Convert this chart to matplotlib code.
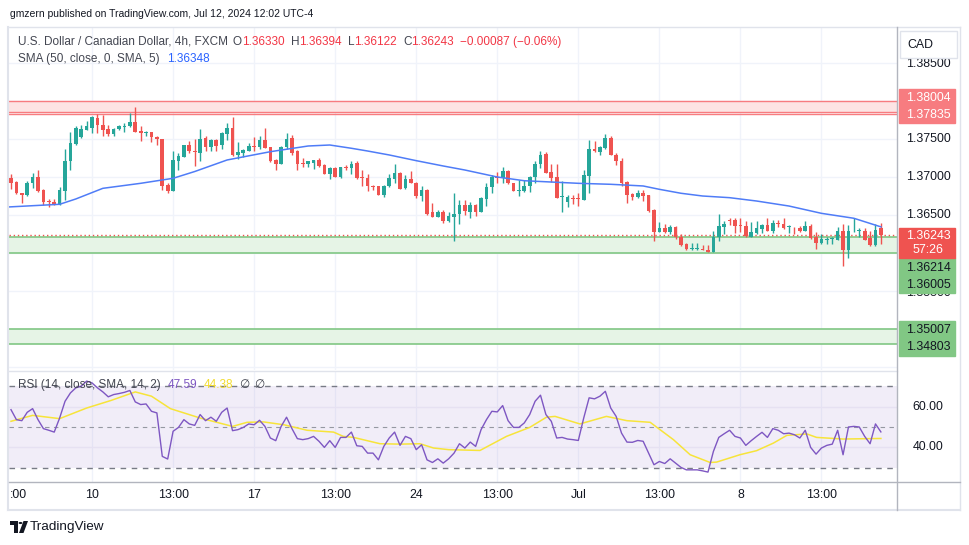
import matplotlib
matplotlib.use("Agg")
import matplotlib.pyplot as plt
from matplotlib.patches import Rectangle, Polygon, Circle
import numpy as np

plt.rcParams['font.family'] = ['Liberation Sans', 'DejaVu Sans']

# ---------------- data ----------------
open_ = [1.3699,1.3694,1.3679,1.3677,1.3692,1.3700,1.3683,1.3669,1.3667,1.3664,
         1.3682,1.3721,1.3744,1.3753,1.3762,1.3765,1.3778,1.3769,1.3764,1.3757,
         1.3763,1.3766,1.3767,1.3773,1.3761,1.3758,1.3760,1.3753,1.3750,1.3690,
         1.3682,1.3722,1.3727,1.3743,1.3735,1.3732,1.3752,1.3740,1.3749,1.3742,
         1.3757,1.3765,1.3729,1.3732,1.3735,1.3741,1.3740,1.3749,1.3740,1.3723,
         1.3718,1.3740,1.3752,1.3734,1.3719,1.3717,1.3719,1.3723,1.3716,1.3705,
         1.3712,1.3700,1.3713,1.3712,1.3719,1.3701,1.3699,1.3688,1.3688,1.3677,
         1.3688,1.3698,1.3706,1.3686,1.3698,1.3693,1.3675,1.3683,1.3654,1.3648,
         1.3655,1.3643,1.3648,1.3652,1.3663,1.3655,1.3663,1.3655,1.3671,1.3687,
         1.3700,1.3699,1.3708,1.3692,1.3682,1.3682,1.3688,1.3700,1.3718,1.3731,
         1.3707,1.3700,1.3674,1.3668,1.3673,1.3673,1.3670,1.3702,1.3737,1.3733,
         1.3739,1.3752,1.3730,1.3721,1.3694,1.3678,1.3674,1.3679,1.3677,1.3657,
         1.3628,1.3633,1.3628,1.3635,1.3622,1.3612,1.3606,1.3606,1.3606,1.3605,
         1.3602,1.3621,1.3635,1.3644,1.3644,1.3637,1.3636,1.3622,1.3627,1.3632,
         1.3637,1.3630,1.3640,1.3638,1.3635,1.3635,1.3633,1.3630,1.3636,1.3622,
         1.3613,1.3618,1.3619,1.3617,1.3629,1.3604,1.3629,1.3630,1.3630,1.3620,
         1.3611,1.36330]
high = [1.3704,1.3695,1.3680,1.3695,1.3706,1.3710,1.3685,1.3671,1.3671,1.3687,
        1.3737,1.3759,1.3768,1.3769,1.3774,1.3781,1.3783,1.3782,1.3769,1.3765,
        1.3769,1.3771,1.3784,1.3793,1.3767,1.3761,1.3760,1.3755,1.3751,1.3692,
        1.3734,1.3732,1.3743,1.3748,1.3751,1.3764,1.3754,1.3750,1.3750,1.3759,
        1.3771,1.3780,1.3746,1.3737,1.3745,1.3753,1.3754,1.3765,1.3740,1.3724,
        1.3741,1.3758,1.3756,1.3736,1.3726,1.3722,1.3723,1.3725,1.3718,1.3714,
        1.3714,1.3714,1.3716,1.3721,1.3721,1.3709,1.3705,1.3690,1.3689,1.3690,
        1.3704,1.3717,1.3707,1.3703,1.3708,1.3694,1.3688,1.3684,1.3666,1.3657,
        1.3657,1.3655,1.3680,1.3670,1.3670,1.3668,1.3665,1.3674,1.3692,1.3703,
        1.3707,1.3713,1.3710,1.3693,1.3696,1.3696,1.3702,1.3721,1.3734,1.3733,
        1.3718,1.3718,1.3695,1.3677,1.3677,1.3680,1.3709,1.3749,1.3748,1.3741,
        1.3757,1.3754,1.3732,1.3726,1.3695,1.3679,1.3683,1.3683,1.3677,1.3658,
        1.3641,1.3639,1.3637,1.3636,1.3626,1.3614,1.3613,1.3614,1.3611,1.3611,
        1.3630,1.3652,1.3643,1.3646,1.3647,1.3646,1.3642,1.3641,1.3642,1.3639,
        1.3647,1.3644,1.3644,1.3647,1.3637,1.3635,1.3636,1.3642,1.3638,1.3628,
        1.3625,1.3622,1.3622,1.3635,1.3638,1.3637,1.3646,1.3633,1.3633,1.3629,
        1.3638,1.36394]
low = [1.3685,1.3678,1.3666,1.3675,1.3686,1.3681,1.3663,1.3661,1.3663,1.3664,
       1.3670,1.3709,1.3743,1.3752,1.3762,1.3758,1.3758,1.3755,1.3755,1.3754,
       1.3762,1.3759,1.3766,1.3759,1.3748,1.3755,1.3747,1.3743,1.3683,1.3680,
       1.3682,1.3710,1.3727,1.3732,1.3715,1.3722,1.3735,1.3735,1.3735,1.3737,
       1.3749,1.3728,1.3724,1.3727,1.3735,1.3735,1.3737,1.3739,1.3720,1.3710,
       1.3718,1.3737,1.3729,1.3709,1.3714,1.3713,1.3711,1.3714,1.3704,1.3698,
       1.3700,1.3699,1.3709,1.3704,1.3698,1.3688,1.3682,1.3683,1.3677,1.3674,
       1.3687,1.3692,1.3684,1.3685,1.3692,1.3673,1.3669,1.3650,1.3648,1.3648,
       1.3640,1.3641,1.3616,1.3638,1.3650,1.3647,1.3649,1.3654,1.3662,1.3680,
       1.3692,1.3693,1.3691,1.3682,1.3676,1.3681,1.3681,1.3693,1.3712,1.3706,
       1.3694,1.3673,1.3655,1.3661,1.3665,1.3662,1.3670,1.3680,1.3733,1.3730,
       1.3737,1.3729,1.3716,1.3688,1.3666,1.3670,1.3673,1.3669,1.3655,1.3616,
       1.3628,1.3627,1.3625,1.3619,1.3610,1.3605,1.3605,1.3604,1.3604,1.3602,
       1.3602,1.3616,1.3626,1.3637,1.3627,1.3628,1.3622,1.3621,1.3626,1.3627,
       1.3629,1.3627,1.3634,1.3632,1.3627,1.3626,1.3628,1.3629,1.3619,1.3606,
       1.3612,1.3612,1.3612,1.3617,1.3583,1.3594,1.3628,1.3622,1.3617,1.3610,
       1.3609,1.36122]
close = [1.3693,1.3679,1.3677,1.3692,1.3700,1.3682,1.3668,1.3667,1.3664,1.3683,
         1.3721,1.3745,1.3765,1.3763,1.3767,1.3779,1.3769,1.3762,1.3757,1.3764,
         1.3767,1.3768,1.3773,1.3760,1.3758,1.3760,1.3753,1.3750,1.3688,1.3682,
         1.3723,1.3728,1.3743,1.3734,1.3733,1.3751,1.3740,1.3749,1.3741,1.3758,
         1.3765,1.3729,1.3733,1.3736,1.3741,1.3740,1.3749,1.3739,1.3721,1.3718,
         1.3740,1.3751,1.3732,1.3718,1.3718,1.3721,1.3723,1.3715,1.3704,1.3712,
         1.3701,1.3713,1.3712,1.3718,1.3699,1.3699,1.3688,1.3687,1.3677,1.3688,
         1.3699,1.3706,1.3685,1.3698,1.3693,1.3675,1.3683,1.3652,1.3648,1.3654,
         1.3642,1.3649,1.3652,1.3663,1.3656,1.3663,1.3655,1.3673,1.3687,1.3700,
         1.3699,1.3708,1.3692,1.3682,1.3683,1.3688,1.3700,1.3718,1.3730,1.3706,
         1.3699,1.3673,1.3675,1.3674,1.3672,1.3672,1.3703,1.3737,1.3734,1.3740,
         1.3752,1.3730,1.3721,1.3693,1.3677,1.3674,1.3679,1.3675,1.3656,1.3628,
         1.3633,1.3628,1.3635,1.3622,1.3611,1.3606,1.3607,1.3607,1.3605,1.3602,
         1.3622,1.3636,1.3639,1.3643,1.3636,1.3636,1.3623,1.3628,1.3633,1.3637,
         1.3630,1.3640,1.3639,1.3633,1.3636,1.3634,1.3630,1.3636,1.3620,1.3613,
         1.3619,1.3619,1.3620,1.3629,1.3604,1.3630,1.3630,1.3631,1.3618,1.3611,
         1.3631,1.36243]

# SMA(50): (bar index, value)
sma_idx = [-0.4, 9, 12, 17, 24, 30, 34, 40, 48, 55, 59, 63, 66, 70, 75, 80, 84, 90,
           95, 100, 105, 111, 117, 120, 124, 128, 133, 138, 144, 150, 156, 161]
sma_val = [1.3661, 1.36645, 1.36715, 1.36855, 1.36921, 1.36987, 1.37076, 1.37228,
           1.37337, 1.37412, 1.37425, 1.37382, 1.37346, 1.37294, 1.37219, 1.37149,
           1.37096, 1.37004, 1.36955, 1.36938, 1.36921, 1.36908, 1.36886, 1.36842,
           1.36790, 1.36754, 1.36732, 1.36688, 1.36622, 1.36526, 1.36461, 1.36348]

rsi = [58.5,53.6,53.1,57.2,59.0,53.6,49.2,48.4,47.5,54.4,62.6,66.7,69.2,70.0,72.5,
       71.6,69.2,67.2,64.8,65.9,66.4,67.0,67.9,62.3,61.0,61.3,57.7,56.9,35.6,34.3,
       47.9,49.8,53.6,51.5,50.8,56.1,53.1,54.8,52.8,57.2,59.3,48.2,48.7,49.8,51.5,
       51.1,53.3,50.3,44.6,43.3,50.3,54.8,49.2,44.3,43.8,44.3,45.4,43.0,40.0,43.3,
       40.0,44.9,44.9,47.5,40.8,40.5,37.2,37.2,33.9,40.5,44.6,47.5,41.0,45.4,44.3,
       38.9,41.3,33.9,32.6,34.4,32.3,34.4,37.2,41.8,39.7,42.6,40.5,48.7,53.6,57.7,
       57.4,60.5,53.1,49.8,49.8,52.0,56.1,62.6,65.6,56.1,52.8,44.6,44.9,44.1,43.8,
       43.4,54.4,64.3,63.8,65.1,67.5,59.3,55.2,47.0,42.6,42.5,43.4,43.0,37.2,31.5,
       33.1,32.1,34.4,32.3,30.2,29.0,29.0,29.0,28.5,27.9,38.0,44.9,46.7,48.4,45.4,
       44.6,41.0,43.3,45.4,47.4,44.9,49.2,48.4,46.7,47.0,46.2,44.6,48.4,40.0,36.7,
       39.7,41.0,41.6,48.4,36.4,50.0,50.3,50.0,45.4,41.8,51.5,47.59]

rsi_ma_idx = [0, 4, 9, 14, 18.5, 23, 26, 29.5, 35, 41, 43.7, 46.7, 50.5, 54.8, 59.7,
              61.5, 63.4, 68.3, 72, 75.7, 78.2, 81, 86.8, 91.7, 96, 99.1, 100.7, 105.3,
              110.2, 114, 118.3, 122.6, 125.7, 129.4, 130.6, 134.9, 138, 141.1, 143.6,
              147.3, 149.1, 154, 161]
rsi_ma_val = [52.8, 55.7, 54.1, 59.3, 63.0, 67.2, 65.1, 59.0, 54.4, 50.3, 52.3, 52.5,
              51.1, 48.4, 47.5, 45.4, 44.9, 41.8, 41.6, 41.8, 39.7, 38.9, 38.5, 45.4,
              49.8, 54.8, 55.2, 51.5, 55.2, 53.1, 52.3, 43.8, 36.4, 32.6, 32.8, 36.4,
              38.4, 42.1, 45.9, 46.6, 44.9, 44.1, 44.38]

res_zone = (1.38004, 1.37855)
res_line = 1.37835
sup_zone1 = (1.36214, 1.36005)
sup_zone2 = (1.35007, 1.34803)
last_price = 1.36243

tick_pos = [15, 30, 45, 60, 75, 90, 105, 120, 135, 150]
tick_lab = ["10", "13:00", "17", "13:00", "24", "13:00", "Jul", "13:00", "8", "13:00"]
price_ticks = [1.385, 1.380, 1.375, 1.370, 1.365, 1.360, 1.355, 1.350, 1.345]

# ---------------- layout helpers ----------------
W, H = 970, 545
def fx(x): return x / W
def fy(y): return 1 - y / H

UP = '#26a69a'
DN = '#ef5350'
GRID = '#f0f3fa'
TXT = '#131722'
GRAY = '#434651'

fig = plt.figure(figsize=(W / 100, H / 100), dpi=100)
fig.patch.set_facecolor('white')

L, R = 9, 897
ax = fig.add_axes([fx(L), fy(370), (R - L) / W, (370 - 27) / H])
rax = fig.add_axes([fx(L), fy(482), (R - L) / W, (482 - 372) / H])
px_per_bar = 5.403
xl = ((L - 11) / px_per_bar, (R - 11) / px_per_bar)

def p_at(y):
    return 1.39333 - 0.00013158 * y

for a in (ax, rax):
    a.set_xlim(*xl)
    a.set_xticks([]); a.set_yticks([])
    for s in a.spines.values():
        s.set_visible(False)
    a.set_facecolor('none')
ax.set_ylim(p_at(370), p_at(27))
rax.set_ylim(23.04, 76.96)

# grids
for t in tick_pos:
    ax.axvline(t, color=GRID, lw=1, zorder=0)
    rax.axvline(t, color=GRID, lw=1, zorder=0)
for p in price_ticks:
    ax.axhline(p, color=GRID, lw=1, zorder=0)

# zones
ax.axhspan(res_zone[1], res_zone[0], color='#fde4e4', lw=0, zorder=1)
for p in (res_zone[0], res_zone[1], res_line):
    ax.axhline(p, color='#f77c80', lw=1.0, zorder=2)
for z in (sup_zone1, sup_zone2):
    ax.axhspan(z[1], z[0], color='#e6f4e6', lw=0, zorder=1)
    for p in z:
        ax.axhline(p, color='#81c784', lw=1.2, zorder=2)
ax.axhline(last_price, color=DN, lw=1, ls=(0, (1, 2)), zorder=2)

# candles
o = np.array(open_); h = np.array(high); lo = np.array(low); c = np.array(close)
idx = np.arange(len(o))
cols = np.where(c >= o, UP, DN)
ax.vlines(idx, lo, h, colors=cols, lw=1.0, zorder=4)
body_b = np.minimum(o, c)
body_h = np.maximum(np.abs(c - o), 0.00003)
ax.bar(idx, body_h, bottom=body_b, width=0.68, color=cols, lw=0, zorder=5)

# SMA
ax.plot(sma_idx, sma_val, color='#4f7cf7', lw=1.1, zorder=6)

# RSI pane
rax.axhspan(30, 70, color='#7e57c2', alpha=0.1, lw=0, zorder=0)
for g in (60, 40):
    rax.axhline(g, color='#e6e1f2', lw=1, zorder=1)
rax.axhline(70, color='#787b86', lw=1, ls=(0, (4, 4)), zorder=2)
rax.axhline(30, color='#787b86', lw=1, ls=(0, (4, 4)), zorder=2)
rax.axhline(50, color='#9598a1', lw=0.8, ls=(0, (4, 4)), zorder=2)
rax.plot(idx, rsi, color='#7e57c2', lw=1, zorder=4)
rax.plot(rsi_ma_idx, rsi_ma_val, color='#f7e43a', lw=1.1, zorder=3)

# ---------------- frame lines ----------------
def fig_line(x0, y0, x1, y1, color, lw=1, z=5):
    fig.add_artist(plt.Line2D([fx(x0), fx(x1)], [fy(y0), fy(y1)], color=color, lw=lw,
                              transform=fig.transFigure, zorder=z))

fig_line(8, 27, 960, 27, '#e0e3eb')
fig_line(8.5, 27, 8.5, 510, '#e0e3eb', lw=1.5)
fig_line(960, 27, 960, 510, '#e0e3eb')
fig_line(8, 510, 960, 510, '#e0e3eb', lw=1.5)
fig_line(9, 371, 897, 371, '#e0e3eb')
fig_line(9, 482, 960, 482, '#b2b5be')
fig_line(897.5, 27, 897.5, 510, '#b2b5be')

# ---------------- right price axis labels ----------------
def fig_rect(x0, y0, x1, y1, color, z=6, ec=None):
    fig.add_artist(Rectangle((fx(x0), fy(y1)), (x1 - x0) / W, (y1 - y0) / H,
                             transform=fig.transFigure, facecolor=color,
                             edgecolor=ec if ec else color, lw=1, zorder=z))

FS = 8.9
def rlabel(y, s, color=TXT, z=8):
    fig.text(fx(928), fy(y), s, color=color, fontsize=FS, ha='center', va='center',
             zorder=z)

rlabel(64, "1.38500", z=5)
fig_rect(900, 31, 957, 58, 'white', z=7, ec='#e0e3eb')
fig.text(fx(920), fy(45), "CAD", color=TXT, fontsize=FS, ha='center', va='center', zorder=8)

fig_rect(899, 89, 955, 123, '#f77c80')
rlabel(98, "1.38004", 'white')
rlabel(115, "1.37835", 'white')
rlabel(139.3, "1.37500")
rlabel(177.3, "1.37000")
rlabel(215.3, "1.36500")
rlabel(293, "1.35500", z=5)
fig_rect(899, 258, 955, 293, '#81c784')
fig_rect(899, 228, 955, 258, '#ef5350')
rlabel(236, "1.36243", 'white')
rlabel(250, "57:26", 'white')
rlabel(268, "1.36214")
rlabel(284.5, "1.36005")
fig_rect(899, 321, 955, 356, '#81c784')
rlabel(330, "1.35007")
rlabel(347, "1.34803")

rlabel(407, "60.00")
rlabel(447, "40.00")

# time axis labels
for t, s in zip(tick_pos, tick_lab):
    x = 11 + t * px_per_bar
    fig.text(fx(x), fy(495), s, color=TXT, fontsize=FS, ha='center', va='center')
fig.text(fx(10), fy(495), ":00", color=TXT, fontsize=FS, ha='left', va='center')

# ---------------- header / legends ----------------
renderer = fig.canvas.get_renderer()
def seq_text(x, y, parts, fs):
    for s, col, gap in parts:
        t = fig.text(fx(x), fy(y), s, color=col, fontsize=fs, ha='left', va='center',
                     zorder=9)
        bb = t.get_window_extent(renderer)
        x += bb.width + gap

fig.text(fx(10), fy(14), "gmzern published on TradingView.com, Jul 12, 2024 12:02 UTC-4",
         color=TXT, fontsize=7.45, ha='left', va='center')
RED = '#f23645'
seq_text(18, 42, [("U.S. Dollar / Canadian Dollar, 4h, FXCM", GRAY, 5),
                  ("O", GRAY, 0), ("1.36330", RED, 6),
                  ("H", GRAY, 0), ("1.36394", RED, 6),
                  ("L", GRAY, 0), ("1.36122", RED, 6),
                  ("C", GRAY, 0), ("1.36243", RED, 6),
                  ("\u22120.00087 (\u22120.06%)", RED, 0)], 8.5)
seq_text(18, 59, [("SMA (50, close, 0, SMA, 5)", GRAY, 7), ("1.36348", '#2962ff', 0)], 8.5)
seq_text(18, 385, [("RSI (14, close, SMA, 14, 2)", GRAY, 7), ("47.59", '#7e57c2', 6),
                   ("44.38", '#f2dc2e', 6), ("\u2205", GRAY, 5), ("\u2205", GRAY, 0)], 8.5)

# ---------------- TradingView logo ----------------
def fpoly(pts, color):
    fig.add_artist(Polygon([(fx(a), fy(b)) for a, b in pts], closed=True,
                           transform=fig.transFigure, facecolor=color, lw=0))
fpoly([(10, 521), (18, 521), (18, 533), (14.5, 533), (14.5, 525), (10, 525)], TXT)
fig.add_artist(Circle((fx(20.5), fy(523)), 1.9 / W, transform=fig.transFigure,
                      facecolor=TXT, lw=0))
fpoly([(23.5, 521), (28, 521), (23.5, 533), (19, 533)], TXT)
fig.text(fx(30), fy(527), "TradingView", color=TXT, fontsize=9.7, ha='left', va='center')

fig.savefig("out.png", dpi=100, facecolor='white')
